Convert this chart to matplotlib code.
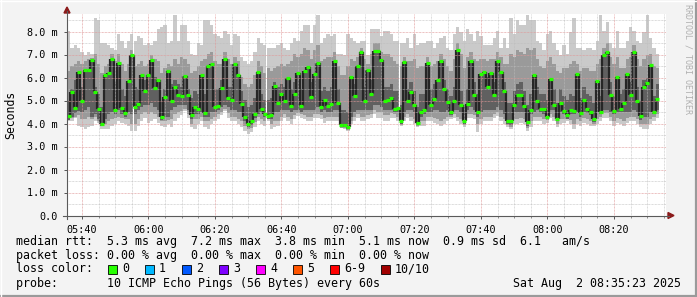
import matplotlib
matplotlib.use("Agg")
import matplotlib.pyplot as plt
from matplotlib.patches import Rectangle, Polygon
from matplotlib.lines import Line2D
import numpy as np

W, H = 697, 297

# ---- data (ms), one value per 1-minute step starting 05:35.5 ----
median = [4.32, 5.38, 4.68, 6.23, 4.96, 6.32, 6.33, 6.75, 5.35, 4.64, 4.00, 6.09, 6.20, 6.80, 4.60, 6.62, 4.68, 4.46, 5.86, 6.99, 4.70, 4.84, 6.13, 5.43, 6.13, 6.78, 5.55, 5.88, 4.29, 5.16,
          6.29, 4.97, 5.57, 5.25, 5.19, 6.07, 5.22, 4.36, 4.71, 4.61, 6.09, 4.45, 6.48, 6.58, 4.72, 4.75, 5.55, 6.80, 5.13, 5.01, 6.57, 6.09, 4.84, 4.29, 3.97, 4.13, 4.41, 6.25, 4.64, 4.41,
          4.32, 4.36, 5.62, 4.91, 5.30, 4.96, 5.97, 4.77, 5.30, 6.19, 4.75, 6.28, 6.46, 5.16, 6.17, 6.64, 4.71, 5.04, 4.77, 4.86, 6.70, 4.91, 3.94, 3.94, 3.83, 6.04, 5.19, 6.52, 7.13, 4.99,
          6.32, 5.30, 7.16, 7.16, 6.78, 4.99, 5.04, 5.12, 4.62, 4.68, 4.12, 6.68, 4.99, 5.39, 4.80, 4.04, 4.52, 4.57, 6.61, 4.81, 5.07, 5.88, 6.71, 5.48, 4.94, 4.48, 4.99, 7.20, 4.80, 4.13,
          4.86, 6.70, 5.25, 4.52, 6.17, 6.23, 5.57, 6.20, 5.22, 6.70, 6.26, 5.42, 4.13, 4.10, 4.81, 5.25, 5.25, 4.77, 4.06, 4.57, 6.10, 5.00, 4.61, 4.64, 4.30, 5.94, 4.81, 4.19, 4.91, 4.55,
          4.36, 4.58, 4.55, 6.14, 4.45, 5.01, 4.62, 4.51, 4.20, 5.84, 4.52, 6.97, 7.13, 5.23, 4.54, 6.04, 4.64, 4.88, 6.17, 5.23, 7.13, 4.99, 4.33, 5.58, 5.77, 6.55, 4.52, 5.07]

smoke_hi = [8.0, 7.3, 7.4, 7.3, 7.1, 7.0, 7.1, 7.0, 8.6, 8.5, 7.5, 7.5, 7.4, 7.3, 7.2, 7.9, 7.6, 7.3, 7.6, 7.9, 7.6, 7.8, 7.7, 7.4, 7.5, 7.4, 7.6, 8.1, 8.2, 8.3,
            7.5, 7.6, 8.7, 7.6, 8.3, 8.3, 7.6, 7.0, 7.0, 7.5, 7.4, 8.5, 8.5, 8.3, 7.9, 7.8, 7.7, 8.0, 7.9, 7.4, 7.9, 7.8, 6.9, 6.7, 6.6, 6.7, 7.1, 7.7, 7.5, 7.4,
            7.3, 7.3, 7.3, 7.4, 7.5, 7.3, 7.2, 7.5, 7.7, 7.6, 8.0, 8.3, 8.3, 7.5, 8.3, 8.7, 7.5, 7.7, 7.9, 7.8, 7.9, 7.0, 7.0, 7.0, 7.9, 7.7, 7.6, 7.5, 7.6, 7.6,
            7.0, 8.1, 8.1, 8.1, 7.8, 8.0, 8.0, 7.9, 7.6, 7.6, 7.5, 7.5, 7.7, 7.3, 7.9, 7.4, 7.5, 7.5, 7.6, 7.6, 7.3, 7.5, 7.7, 7.8, 7.3, 7.2, 7.9, 8.2, 8.0, 7.6,
            8.1, 7.9, 7.6, 8.0, 7.8, 7.4, 7.4, 7.4, 7.7, 8.0, 7.3, 7.7, 7.3, 8.6, 7.9, 8.5, 8.3, 8.3, 8.7, 8.5, 8.5, 7.6, 7.5, 7.2, 7.9, 8.0, 7.5, 7.2, 7.0, 7.4,
            7.0, 8.0, 8.6, 7.3, 7.3, 7.2, 7.3, 7.3, 7.2, 7.6, 8.7, 8.0, 8.4, 7.5, 7.3, 8.0, 7.3, 7.3, 7.6, 8.2, 8.0, 7.6, 7.5, 8.0, 8.7, 7.7, 7.3, 7.0]

smoke_lo = [4.12, 4.12, 4.26, 3.90, 3.83, 3.75, 3.83, 3.90, 4.12, 4.04, 3.75, 3.75, 3.75, 3.90, 3.97, 4.12, 4.04, 3.97, 3.90, 3.68, 3.68, 3.90, 4.12, 4.26, 4.04, 4.12, 4.19, 4.04, 3.90, 3.83,
            3.97, 3.83, 4.12, 4.26, 4.39, 4.55, 4.26, 3.83, 3.75, 3.97, 4.12, 3.83, 3.75, 3.97, 4.12, 4.19, 4.39, 4.55, 4.26, 4.12, 4.12, 3.97, 3.83, 3.68, 3.54, 3.61, 3.83, 4.12, 3.97, 3.90,
            4.12, 3.75, 3.83, 3.90, 4.12, 4.26, 4.12, 3.97, 4.19, 4.33, 4.26, 4.19, 4.12, 4.12, 4.26, 4.26, 4.19, 4.04, 4.12, 4.12, 4.12, 4.12, 3.90, 3.75, 3.68, 3.97, 4.12, 4.26, 4.12, 4.12,
            4.19, 4.26, 4.41, 4.26, 4.26, 4.12, 4.12, 4.26, 4.26, 4.12, 3.90, 4.12, 4.26, 4.12, 3.97, 3.83, 3.90, 3.90, 4.12, 4.12, 4.04, 3.97, 3.90, 3.97, 4.12, 4.19, 4.26, 4.12, 3.97, 3.83,
            4.26, 4.26, 4.19, 3.61, 3.97, 4.12, 4.12, 4.12, 4.26, 4.33, 4.12, 3.97, 3.83, 3.75, 3.97, 3.97, 4.04, 3.97, 3.68, 3.83, 4.12, 4.12, 4.12, 3.97, 4.04, 4.26, 4.12, 3.83, 3.97, 4.04,
            4.12, 3.97, 3.75, 3.97, 3.90, 4.04, 3.97, 3.90, 3.90, 3.97, 4.12, 4.26, 4.26, 4.12, 3.90, 4.04, 3.97, 3.90, 4.04, 4.12, 4.12, 3.97, 3.83, 3.75, 3.75, 3.97, 4.12, 4.26]

mid_hi = [6.3, 6.5, 6.6, 6.7, 6.6, 6.7, 6.8, 6.85, 7.0, 6.6, 6.2, 6.5, 6.6, 7.0, 6.7, 7.0, 6.6, 6.3, 6.6, 7.2, 6.5, 6.6, 6.7, 6.5, 6.6, 7.0, 6.8, 6.7, 6.2, 6.4,
          6.6, 6.5, 6.8, 6.6, 6.9, 6.8, 6.6, 6.2, 6.3, 6.5, 6.7, 6.8, 7.0, 7.1, 6.7, 6.6, 6.6, 7.1, 6.8, 6.6, 6.9, 6.7, 6.0, 5.7, 5.6, 5.7, 6.1, 6.7, 6.5, 6.2,
          6.4, 6.3, 6.4, 6.5, 6.6, 6.5, 6.6, 6.7, 7.0, 6.9, 7.0, 7.3, 7.2, 6.8, 7.2, 7.4, 6.7, 6.8, 6.9, 6.9, 7.1, 6.5, 6.1, 6.1, 6.5, 6.8, 6.7, 6.9, 7.3, 6.8,
          6.6, 7.0, 7.5, 7.5, 7.1, 7.0, 7.0, 6.9, 6.7, 6.6, 6.5, 6.9, 6.7, 6.7, 6.8, 6.4, 6.5, 6.5, 6.9, 6.5, 6.6, 6.7, 7.0, 6.8, 6.5, 6.3, 6.8, 7.5, 7.0, 6.4,
          6.9, 7.1, 6.8, 6.7, 6.8, 6.8, 6.7, 6.8, 6.8, 7.1, 6.9, 6.6, 6.6, 7.0, 6.9, 7.2, 7.1, 7.0, 7.3, 7.2, 7.3, 6.8, 6.5, 6.4, 6.7, 6.9, 6.6, 6.3, 6.2, 6.4,
          6.4, 6.6, 6.7, 6.6, 6.3, 6.4, 6.4, 6.3, 6.3, 6.6, 6.8, 7.3, 7.5, 6.9, 6.6, 6.9, 6.4, 6.4, 6.8, 6.9, 7.4, 6.8, 6.5, 6.8, 7.0, 7.0, 6.5, 6.4]

mid_lo = [4.2, 4.25, 4.3, 4.35, 4.2, 4.2, 4.3, 4.2, 4.3, 4.1, 3.95, 4.0, 4.1, 4.2, 4.25, 4.3, 4.25, 4.2, 4.2, 4.0, 4.0, 4.2, 4.4, 4.5, 4.4, 4.5, 4.4, 4.3, 4.1, 4.1,
          4.15, 4.2, 4.4, 4.5, 4.55, 4.65, 4.4, 4.0, 4.2, 4.2, 4.3, 4.1, 4.1, 4.2, 4.3, 4.4, 4.5, 4.65, 4.45, 4.3, 4.3, 4.2, 4.1, 3.9, 3.75, 3.8, 4.05, 4.3, 4.2, 4.1,
          4.2, 4.0, 4.1, 4.1, 4.3, 4.4, 4.3, 4.2, 4.35, 4.45, 4.4, 4.35, 4.3, 4.3, 4.4, 4.4, 4.35, 4.25, 4.3, 4.3, 4.3, 4.3, 3.8, 3.8, 3.72, 4.1, 4.3, 4.4, 4.3, 4.3,
          4.35, 4.4, 4.6, 4.5, 4.5, 4.35, 4.35, 4.45, 4.4, 4.3, 3.95, 4.3, 4.4, 4.3, 4.2, 3.9, 4.1, 4.1, 4.3, 4.3, 4.25, 4.2, 4.1, 4.2, 4.3, 4.3, 4.4, 4.3, 4.2, 3.95,
          4.4, 4.4, 4.35, 4.0, 4.2, 4.3, 4.3, 4.3, 4.4, 4.5, 4.3, 4.2, 3.95, 3.85, 4.2, 4.2, 4.25, 4.2, 3.8, 4.1, 4.3, 4.3, 4.3, 4.2, 4.15, 4.4, 4.3, 4.0, 4.2, 4.2,
          4.2, 4.15, 4.0, 4.2, 4.1, 4.25, 4.2, 4.1, 4.0, 4.2, 4.3, 4.45, 4.45, 4.3, 4.1, 4.25, 4.2, 4.1, 4.25, 4.3, 4.3, 4.2, 4.0, 4.0, 4.0, 4.2, 4.3, 4.4]

core_hi = [5.0, 5.5, 5.9, 6.23, 5.6, 6.32, 6.33, 6.75, 5.6, 5.3, 4.7, 6.09, 6.2, 6.8, 5.8, 6.62, 5.5, 5.2, 5.86, 6.99, 5.6, 5.5, 6.13, 5.9, 6.13, 6.78, 6.0, 5.88, 5.0, 5.5,
           6.29, 5.7, 5.9, 5.7, 5.6, 6.07, 5.5, 5.1, 5.4, 5.3, 6.09, 5.3, 6.48, 6.58, 5.5, 5.5, 5.9, 6.80, 5.6, 5.6, 6.57, 6.09, 5.4, 5.0, 4.7, 4.8, 5.1, 6.25, 5.3, 5.0,
           5.0, 5.1, 5.8, 5.6, 5.7, 5.6, 5.97, 5.5, 5.8, 6.19, 5.5, 6.28, 6.46, 5.8, 6.17, 6.64, 5.4, 5.6, 5.4, 5.6, 6.70, 5.5, 4.6, 4.6, 4.5, 6.04, 5.7, 6.52, 7.13, 5.6,
           6.32, 5.9, 7.16, 7.16, 6.78, 5.6, 5.6, 5.7, 5.4, 5.4, 4.8, 6.68, 5.5, 5.8, 5.4, 4.7, 5.3, 5.3, 6.61, 5.5, 5.7, 5.88, 6.71, 5.9, 5.5, 5.2, 5.6, 7.20, 5.4, 4.8,
           5.5, 6.70, 5.8, 5.3, 6.17, 6.23, 6.0, 6.20, 5.8, 6.70, 6.26, 5.8, 4.9, 4.9, 5.4, 5.7, 5.8, 5.4, 4.8, 5.3, 6.10, 5.6, 5.3, 5.3, 5.0, 5.94, 5.5, 4.9, 5.5, 5.2,
           5.0, 5.3, 5.2, 6.14, 5.1, 5.6, 5.3, 5.2, 4.9, 5.84, 5.2, 6.97, 7.13, 5.8, 5.2, 6.04, 5.3, 5.5, 6.17, 5.8, 7.13, 5.6, 5.0, 5.9, 6.0, 6.55, 5.2, 5.7]

core_lo = [4.15, 4.3, 4.45, 4.55, 4.5, 4.6, 4.7, 4.3, 4.4, 4.2, 3.9, 4.2, 4.4, 4.5, 4.4, 4.6, 4.4, 4.3, 4.5, 4.4, 4.4, 4.6, 4.7, 4.8, 4.8, 4.9, 4.7, 4.6, 4.15, 4.3,
           4.3, 4.6, 4.7, 4.8, 4.8, 4.8, 4.6, 4.2, 4.4, 4.4, 4.5, 4.3, 4.3, 4.5, 4.5, 4.6, 4.7, 4.8, 4.7, 4.6, 4.6, 4.5, 4.5, 4.1, 3.85, 3.95, 4.25, 4.4, 4.5, 4.3,
           4.2, 4.2, 4.5, 4.5, 4.6, 4.6, 4.6, 4.5, 4.6, 4.6, 4.5, 4.6, 4.6, 4.6, 4.6, 4.7, 4.5, 4.6, 4.5, 4.5, 4.6, 4.6, 3.85, 3.85, 3.75, 4.3, 4.5, 4.6, 4.6, 4.6,
           4.6, 4.6, 4.8, 4.8, 4.7, 4.6, 4.6, 4.6, 4.5, 4.5, 4.0, 4.5, 4.6, 4.6, 4.5, 3.95, 4.3, 4.4, 4.5, 4.5, 4.6, 4.6, 4.5, 4.5, 4.6, 4.35, 4.6, 4.6, 4.5, 4.0,
           4.6, 4.7, 4.6, 4.3, 4.5, 4.6, 4.6, 4.6, 4.6, 4.7, 4.6, 4.4, 4.0, 3.95, 4.5, 4.5, 4.5, 4.5, 3.9, 4.4, 4.5, 4.6, 4.5, 4.4, 4.2, 4.6, 4.6, 4.1, 4.5, 4.4,
           4.2, 4.4, 4.4, 4.5, 4.3, 4.5, 4.45, 4.35, 4.05, 4.5, 4.4, 4.6, 4.6, 4.5, 4.4, 4.5, 4.5, 4.5, 4.5, 4.5, 4.6, 4.5, 4.15, 4.3, 4.3, 4.5, 4.4, 4.6]

series = [median, smoke_hi, smoke_lo, mid_hi, mid_lo, core_hi, core_lo]
assert all(len(s) == len(median) for s in series), [len(s) for s in series]

start_minute = 335.5          # 05:35:30
step_minutes = 1.0
x_ticks = [340, 360, 380, 400, 420, 440, 460, 480, 500]
x_tick_labels = ["05:40", "06:00", "06:20", "06:40", "07:00", "07:20", "07:40", "08:00", "08:20"]
y_ticks = [0, 1, 2, 3, 4, 5, 6, 7, 8]
y_tick_labels = ["0.0", "1.0 m", "2.0 m", "3.0 m", "4.0 m", "5.0 m", "6.0 m", "7.0 m", "8.0 m"]

legend_lines = [
    "median rtt:  5.3 ms avg  7.2 ms max  3.8 ms min  5.1 ms now  0.9 ms sd  6.1   am/s",
    "packet loss: 0.00 % avg  0.00 % max  0.00 % min  0.00 % now",
]
loss_labels = ["0", "1", "2", "3", "4", "5", "6-9", "10/10"]
loss_colors = ["#26ff00", "#00b8ff", "#0059ff", "#7e00ff", "#ff00ff", "#ff5500", "#ff0000", "#a10000"]
probe_text = "probe:       10 ICMP Echo Pings (56 Bytes) every 60s"
date_text = "Sat Aug  2 08:35:23 2025"

# ---- figure ----
MONO = "DejaVu Sans Mono"
fig = plt.figure(figsize=(W / 100, H / 100), dpi=100, facecolor="#f3f3f3")

def fx(x):
    return x / W

def fy(y):
    return 1 - y / H

ax_left, ax_right, ax_bottom = 67, 665.5, 215.5
ppm = 23.0  # pixels per ms
ymax = 8.75
ax = fig.add_axes([fx(ax_left), fy(ax_bottom), (ax_right - ax_left) / W, ymax * ppm / H])
ax.set_facecolor("white")
xmax = start_minute + (ax_right - ax_left) / 3.325
ax.set_xlim(start_minute, xmax)
ax.set_ylim(0, ymax)
for s in ax.spines.values():
    s.set_visible(False)

xs = start_minute + np.arange(len(median)) * step_minutes
med = np.array(median)
ax.bar(xs, np.array(smoke_hi) - np.array(smoke_lo), bottom=smoke_lo, width=step_minutes,
       align="edge", color="#cacaca", linewidth=0, zorder=1)
ax.bar(xs, np.array(mid_hi) - np.array(mid_lo), bottom=mid_lo, width=step_minutes,
       align="edge", color="#9a9a9a", linewidth=0, zorder=2)
ax.bar(xs, np.array(core_hi) - np.array(core_lo), bottom=core_lo, width=step_minutes,
       align="edge", color="#606060", linewidth=0, zorder=3)
# dark step connectors between consecutive medians
ax.vlines(xs[1:], np.minimum(med[:-1], med[1:]), np.maximum(med[:-1], med[1:]),
          colors="#262626", linewidth=1.6, zorder=3.5)
ax.hlines(med, xs - 0.1, xs + step_minutes + 0.1, colors="#26ff00", linewidth=2.3, zorder=5)

# grid (drawn over the data, like rrdtool)
dot = (0, (0.72, 0.72))
for v in np.arange(0.5, ymax, 0.5):
    major = abs(v - round(v)) < 1e-6
    ax.axhline(v, color="#e09898" if major else "#bdbdbd", lw=0.72, ls=dot,
               alpha=0.8 if major else 0.7, zorder=4)
for m in np.arange(340, xmax + 0.01, 5):
    major = (m - 340) % 20 == 0
    ax.axvline(m, color="#e09898" if major else "#bdbdbd", lw=0.72, ls=dot,
               alpha=0.8 if major else 0.7, zorder=4)

ax.set_xticks(x_ticks)
ax.set_xticklabels(x_tick_labels, fontfamily=MONO, fontsize=7.3)
ax.set_yticks(y_ticks)
ax.set_yticklabels(y_tick_labels, fontfamily=MONO, fontsize=7.3)
ax.tick_params(axis="both", length=2.2, width=0.7, color="#555555", pad=4.5)
ax.tick_params(axis="y", pad=4.8)
ax.set_xticks(np.arange(340, xmax, 5), minor=True)
ax.tick_params(axis="x", which="minor", length=1.4, width=0.7, color="#888888")

# axis lines + arrows
axis_col = "#5a5a5a"
fig.add_artist(Line2D([fx(67), fx(67)], [fy(219), fy(11)], color=axis_col, lw=0.8))
fig.add_artist(Line2D([fx(63), fx(669)], [fy(215.5), fy(215.5)], color=axis_col, lw=0.8))
fig.add_artist(Polygon([(fx(67), fy(7)), (fx(64), fy(13)), (fx(70), fy(13))],
                       closed=True, color="#8b1a1a", transform=fig.transFigure))
fig.add_artist(Polygon([(fx(674), fy(215.5)), (fx(668), fy(212.5)), (fx(668), fy(218.5))],
                       closed=True, color="#8b1a1a", transform=fig.transFigure))

# labels
fig.text(fx(11), fy(115), "Seconds", rotation=90, ha="center", va="center",
         fontfamily=MONO, fontsize=8.3, color="#000000")
fig.text(fx(688), fy(4), "RRDTOOL / TOBI OETIKER", rotation=270, ha="center", va="top",
         fontfamily=MONO, fontsize=6.0, color="#b0b0b0")

fs = 8.4
fig.text(fx(16), fy(241), legend_lines[0], ha="left", va="center", fontfamily=MONO, fontsize=fs)
fig.text(fx(16), fy(255), legend_lines[1], ha="left", va="center", fontfamily=MONO, fontsize=fs)
fig.text(fx(16), fy(269), "loss color:", ha="left", va="center", fontfamily=MONO, fontsize=fs)
square_x = [108, 145, 182, 219, 256, 293, 330, 381]
for sx, lab, col in zip(square_x, loss_labels, loss_colors):
    fig.add_artist(Rectangle((fx(sx), fy(273.5)), 9 / W, 9 / H, facecolor=col,
                             edgecolor="#000000", lw=0.6, transform=fig.transFigure))
    fig.text(fx(sx + 14), fy(269), lab, ha="left", va="center", fontfamily=MONO, fontsize=fs)
fig.text(fx(16), fy(283), probe_text, ha="left", va="center", fontfamily=MONO, fontsize=fs)
fig.text(fx(681), fy(283), date_text, ha="right", va="center", fontfamily=MONO, fontsize=fs)

# 3D-ish frame
fig.add_artist(Line2D([0, 1], [fy(295.8), fy(295.8)], color="#9a9a9a", lw=1.6))
fig.add_artist(Line2D([fx(695.8), fx(695.8)], [0, 1], color="#9a9a9a", lw=1.6))
fig.add_artist(Line2D([0, 1], [fy(0.5), fy(0.5)], color="#ffffff", lw=1.0))
fig.add_artist(Line2D([fx(0.5), fx(0.5)], [0, 1], color="#ffffff", lw=1.0))

fig.savefig("out.png", dpi=100, facecolor=fig.get_facecolor())
